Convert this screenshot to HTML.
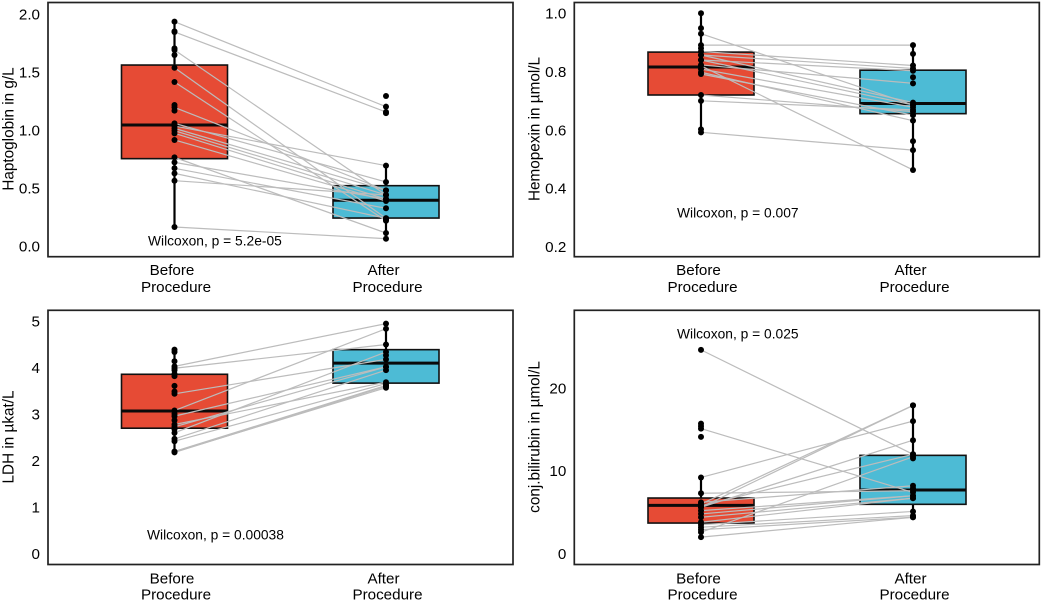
<!DOCTYPE html>
<html>
<head>
<meta charset="utf-8">
<title>Biomarkers before and after procedure</title>
<style>
html,body{margin:0;padding:0;background:#fff;width:1042px;height:602px;overflow:hidden}
svg{display:block;filter:blur(0.3px)}
text{font-family:"Liberation Sans",Arial,sans-serif;fill:#000}
</style>
</head>
<body>
<svg id="chart" width="1042" height="602" viewBox="0 0 1042 602" xmlns="http://www.w3.org/2000/svg"></svg>
<script>
const categories = ['Before', 'After'];
const categorySuffix = 'Procedure';

const haptoTicks = [0, 0.5, 1, 1.5, 2];
const haptoTickLabels = ['0.0', '0.5', '1.0', '1.5', '2.0'];
const haptoPairBefore = [1.934, 1.845, 1.69, 1.537, 1.414, 1.195, 1.057, 1.034, 1.014, 0.994, 0.971, 0.914, 0.764, 0.721, 0.67, 0.626, 0.563, 0.164];
const haptoPairAfter = [1.201, 1.155, 0.44, 0.239, 0.218, 0.48, 0.552, 0.693, 0.48, 0.44, 0.405, 0.388, 0.112, 0.405, 0.325, 0.239, 0.44, 0.063];
const haptoExtraBefore = [1.85, 1.704, 1.647, 1.216, 1.167, 1.05];
const haptoExtraAfter = [1.293, 1.145, 0.225];
const haptoBoxBefore = [0.164, 0.753, 1.043, 1.56, 1.934];
const haptoBoxAfter = [0.063, 0.241, 0.394, 0.52, 0.693];

const hemoTicks = [0.2, 0.4, 0.6, 0.8, 1];
const hemoTickLabels = ['0.2', '0.4', '0.6', '0.8', '1.0'];
const hemoPairBefore = [0.93, 0.891, 0.869, 0.857, 0.857, 0.84, 0.84, 0.823, 0.82, 0.809, 0.798, 0.792, 0.72, 0.7, 0.592];
const hemoPairAfter = [0.686, 0.891, 0.821, 0.811, 0.694, 0.803, 0.686, 0.76, 0.463, 0.678, 0.632, 0.651, 0.663, 0.669, 0.531];
const hemoExtraBefore = [1, 0.949, 0.88, 0.602];
const hemoExtraAfter = [0.861, 0.781, 0.562];
const hemoBoxBefore = [0.592, 0.72, 0.816, 0.867, 1];
const hemoBoxAfter = [0.463, 0.656, 0.691, 0.805, 0.891];

const ldhTicks = [0, 1, 2, 3, 4, 5];
const ldhTickLabels = ['0', '1', '2', '3', '4', '5'];
const ldhPairBefore = [4.03, 3.99, 3.44, 3.08, 2.96, 2.78, 2.73, 2.6, 2.47, 2.42, 2.2, 2.19, 2.18];
const ldhPairAfter = [4.95, 4.5, 4.18, 4.84, 4.02, 3.69, 4.02, 4.34, 3.95, 3.66, 3.62, 3.57, 3.6];
const ldhExtraBefore = [4.39, 4.34, 4.14, 3.95, 3.87, 3.82, 3.61, 3.49, 3.01, 2.87, 2.68];
const ldhExtraAfter = [4.27, 3.62];
const ldhBoxBefore = [2.18, 2.7, 3.07, 3.86, 4.39];
const ldhBoxAfter = [3.57, 3.67, 4.1, 4.39, 4.95];

const biliTicks = [0, 10, 20];
const biliTickLabels = ['0', '10', '20'];
const biliPairBefore = [24.6, 15.1, 9.2, 7.3, 6.2, 6, 5.8, 5.6, 5.6, 5.2, 4.8, 4.4, 3.8, 3.5, 3.2, 2.9, 2.6, 2];
const biliPairAfter = [12, 7.4, 16, 7.6, 8.2, 17.9, 12, 17.9, 13.7, 7, 7, 6.7, 6.7, 5.1, 4.6, 4.4, 11.7, 4.4];
const biliExtraBefore = [15.7, 15.4, 14.1];
const biliExtraAfter = [11.5, 7.9];
const biliBoxBefore = [2, 3.7, 5.84, 6.72, 9.2];
const biliBoxAfter = [4.4, 5.96, 7.69, 11.87, 17.9];

const panels = [
  { key:'haptoglobin', title:'Haptoglobin in g/L', stat:'Wilcoxon, p = 5.2e-05', ticks:haptoTicks, tickLabels:haptoTickLabels,
    pairB:haptoPairBefore, pairA:haptoPairAfter, extraB:haptoExtraBefore, extraA:haptoExtraAfter, boxB:haptoBoxBefore, boxA:haptoBoxAfter,
    frame:[48,2.5,513,256.7], dom:[0,2], rng:[246,14], xB:174.5, xA:386, titleX:8, titleY:129, statX:148, statY:245.5, lab:[275,292] },
  { key:'hemopexin', title:'Hemopexin in \u00b5mol/L', stat:'Wilcoxon, p = 0.007', ticks:hemoTicks, tickLabels:hemoTickLabels,
    pairB:hemoPairBefore, pairA:hemoPairAfter, extraB:hemoExtraBefore, extraA:hemoExtraAfter, boxB:hemoBoxBefore, boxA:hemoBoxAfter,
    frame:[574.3,2.5,1039.3,256.7], dom:[0.2,1], rng:[246.7,13.3], xB:701, xA:913, titleX:534, titleY:129, statX:677, statY:217.5, lab:[275,292] },
  { key:'ldh', title:'LDH in \u00b5kat/L', stat:'Wilcoxon, p = 0.00038', ticks:ldhTicks, tickLabels:ldhTickLabels,
    pairB:ldhPairBefore, pairA:ldhPairAfter, extraB:ldhExtraBefore, extraA:ldhExtraAfter, boxB:ldhBoxBefore, boxA:ldhBoxAfter,
    frame:[48,310.3,513,564.5], dom:[0,5], rng:[553.7,321.3], xB:174.5, xA:386, titleX:8, titleY:437, statX:147, statY:539.7, lab:[583.5,599.5] },
  { key:'bilirubin', title:'conj.bilirubin in \u00b5mol/L', stat:'Wilcoxon, p = 0.025', ticks:biliTicks, tickLabels:biliTickLabels,
    pairB:biliPairBefore, pairA:biliPairAfter, extraB:biliExtraBefore, extraA:biliExtraAfter, boxB:biliBoxBefore, boxA:biliBoxAfter,
    frame:[574.3,310.3,1039.3,564.5], dom:[0,20], rng:[553.7,388], xB:701, xA:913, titleX:534, titleY:437, statX:677, statY:338.5, lab:[583.5,599.5] }
];

const NS = 'http://www.w3.org/2000/svg';
const root = document.getElementById('chart');
const BOX_HALF = 53;

function make(parent, tag, attrs, txt) {
  const el = document.createElementNS(NS, tag);
  for (const k in attrs) el.setAttribute(k, attrs[k]);
  if (txt !== undefined) el.textContent = txt;
  parent.appendChild(el);
  return el;
}

function drawBox(g, p, y, x, stats, color, label) {
  const whisker = make(g, 'line', { x1:x, x2:x, y1:y(stats[0]), y2:y(stats[4]), stroke:'#000', 'stroke-width':2.2 });
  
  
  const rect = make(g, 'rect', { x:x-BOX_HALF, y:y(stats[3]), width:BOX_HALF*2, height:y(stats[1])-y(stats[3]), fill:color, stroke:'#111', 'stroke-width':1.6 });
  
  
  const med = make(g, 'line', { x1:x-BOX_HALF, x2:x+BOX_HALF, y1:y(stats[2]), y2:y(stats[2]), stroke:'#0a0a0a', 'stroke-width':3 });
  
  
}

function drawPoint(g, x, yPos, label) {
  const c = make(g, 'circle', { cx:x, cy:yPos, r:3, fill:'#000' });
  
  
}

panels.forEach(function (p) {
  const y = function (v) {
    return p.rng[0] + (v - p.dom[0]) / (p.dom[1] - p.dom[0]) * (p.rng[1] - p.rng[0]);
  };
  const g = make(root, 'g', {});
  
  

  const f = p.frame;
  const tickRight = f[0] - 8;

  p.ticks.forEach(function (t, i) {
    const lbl = make(g, 'text', { x:tickRight, y:y(t)+5.3, 'text-anchor':'end', 'font-size':15.2 }, p.tickLabels[i]);
    
    
  });

  const title = make(g, 'text', { x:0, y:0, 'text-anchor':'middle', 'font-size':15.3, transform:'translate(' + (p.titleX+5.5) + ',' + p.titleY + ') rotate(-90)' }, p.title);
  
  

  drawBox(g, p, y, p.xB, p.boxB, '#E64B35', p.key + '-before');
  drawBox(g, p, y, p.xA, p.boxA, '#4DBBD5', p.key + '-after');

  p.pairB.forEach(function (b, i) {
    const l = make(g, 'line', { x1:p.xB, y1:y(b), x2:p.xA, y2:y(p.pairA[i]), stroke:'#bcbcbc', 'stroke-width':1.2 });
    
    
  });

  p.pairB.concat(p.extraB).forEach(function (v) {
    drawPoint(g, p.xB, y(v), p.key + '-before-point');
  });
  p.pairA.concat(p.extraA).forEach(function (v) {
    drawPoint(g, p.xA, y(v), p.key + '-after-point');
  });

  const stat = make(g, 'text', { x:p.statX, y:p.statY, 'font-size':13.8 }, p.stat);
  
  

  const frame = make(g, 'rect', { x:f[0], y:f[1], width:f[2]-f[0], height:f[3]-f[1], fill:'none', stroke:'#222', 'stroke-width':1.7 });
  
  

  [p.xB, p.xA].forEach(function (x, i) {
    const a = make(g, 'text', { x:x-2.5, y:p.lab[0], 'text-anchor':'middle', 'font-size':15.2 }, categories[i]);
    
    
    const b = make(g, 'text', { x:x+1.5, y:p.lab[1], 'text-anchor':'middle', 'font-size':15.2 }, categorySuffix);
    
    
  });
});
</script>
</body>
</html>
